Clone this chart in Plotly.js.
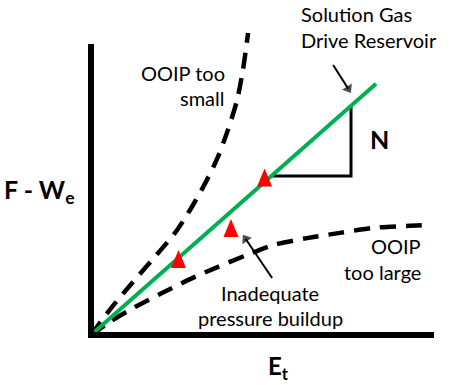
<!DOCTYPE html>
<html>
<head>
<meta charset="utf-8">
<script src="https://cdn.plot.ly/plotly-3.0.1.min.js"></script>
<style>
  html, body { margin: 0; padding: 0; background: #ffffff; }
  #chart { width: 468px; height: 385px; }
</style>
</head>
<body>
<div id="chart"></div>
<script>
// Havlena-Odeh material balance diagnostic: F - We plotted against Et.
// Units are arbitrary: both axes run 0..10.

// Straight line for a solution gas drive reservoir (slope = N)
const lineEt = [0, 8.31];
const lineF  = [0, 8.63];

// Measured points (red triangles)
const pointEt = [2.55, 4.08, 5.06];
const pointF  = [2.61, 3.68, 5.41];

// Curve bending upward: OOIP assumed too small
const smallEt = [0, 0.61, 1.20, 1.78, 2.45, 2.94, 3.38, 3.70, 3.99, 4.26, 4.43, 4.58];
const smallF  = [0, 0.96, 1.79, 2.58, 3.51, 4.40, 5.33, 6.12, 7.04, 8.08, 9.11, 10.38];

// Curve bending downward: OOIP assumed too large
const largeEt = [0, 0.55, 1.28, 2.07, 2.89, 3.62, 4.55, 5.31, 6.30, 7.26, 8.22, 9.21, 9.83];
const largeF  = [0, 0.45, 0.96, 1.44, 1.92, 2.30, 2.75, 3.09, 3.33, 3.51, 3.68, 3.75, 3.78];

// Slope triangle under the straight line: run from Et 5.28 to 7.58
const slopeEt = [5.28, 7.58, 7.58];
const slopeF  = [5.46, 5.46, 7.87];

// Pointer arrows: [tail, arrowhead centre]
const reservoirArrowEt = [7.06, 7.50];
const reservoirArrowF  = [9.28, 8.46];
const buildupArrowEt = [5.28, 4.51];
const buildupArrowF  = [1.96, 3.30];

const axisMax = 10;

const FONT = 'Lato, "Open Sans", sans-serif';
const BLACK = '#000000';

function arrowTrace(xs, ys) {
  return {
    x: xs, y: ys, type: 'scatter', mode: 'lines+markers', hoverinfo: 'skip',
    line: { color: BLACK, width: 2 },
    marker: {
      symbol: 'triangle-up', angleref: 'previous',
      size: [0, 10], color: BLACK, line: { width: 0 }
    }
  };
}

const traces = [
  {
    x: smallEt, y: smallF, mode: 'lines', type: 'scatter', hoverinfo: 'skip',
    line: { color: BLACK, width: 4.5, dash: '16px,10px', shape: 'spline', smoothing: 0.8 }
  },
  {
    x: largeEt, y: largeF, mode: 'lines', type: 'scatter', hoverinfo: 'skip',
    line: { color: BLACK, width: 4.5, dash: '16px,10px', shape: 'spline', smoothing: 0.8 }
  },
  {
    x: slopeEt, y: slopeF, mode: 'lines', type: 'scatter', hoverinfo: 'skip',
    line: { color: BLACK, width: 3 }
  },
  {
    x: lineEt, y: lineF, mode: 'lines', type: 'scatter', hoverinfo: 'skip',
    line: { color: '#00b050', width: 4 }
  },
  arrowTrace(reservoirArrowEt, reservoirArrowF),
  arrowTrace(buildupArrowEt, buildupArrowF)
];

const shapes = [
  // axis frame: left spine and bottom spine
  {
    type: 'path', xref: 'x', yref: 'y',
    path: `M0,${axisMax} L0,0 L${axisMax},0`,
    line: { color: BLACK, width: 6 }
  }
];

// Red triangles, sized in pixels and anchored at each data point
pointEt.forEach((et, i) => {
  shapes.push({
    type: 'path', xref: 'x', yref: 'y',
    xsizemode: 'pixel', ysizemode: 'pixel',
    xanchor: et, yanchor: pointF[i],
    path: 'M-7.5,-9 L7.5,-9 L0,9 Z',
    fillcolor: '#ff0000', line: { width: 0 }
  });
});

function label(text, x, y, xanchor, size, bold) {
  return {
    text: text, x: x, y: y, xref: 'x', yref: 'y',
    xanchor: xanchor, yanchor: 'middle', showarrow: false,
    font: { family: FONT, size: size, color: BLACK, weight: bold ? 700 : 400 }
  };
}

const annotations = [
  label('Solution Gas', 6.06, 11.03, 'left', 20),
  label('Drive Reservoir', 6.06, 10.14, 'left', 20),
  label('OOIP too', 3.97, 9.02, 'right', 20),
  label('small', 3.97, 8.13, 'right', 20),
  label('OOIP', 9.68, 3.06, 'right', 20),
  label('too large', 9.68, 2.16, 'right', 20),
  label('Inadequate', 5.22, 1.46, 'center', 20),
  label('pressure buildup', 5.22, 0.58, 'center', 20),
  label('N', 8.40, 6.74, 'center', 25, true),
  label('F - W<sub>e</sub>', -2.59, 4.95, 'left', 25, true),
  label('E<sub>t</sub>', 5.10, -1.10, 'left', 24, true)
];

const layout = {
  width: 468, height: 385,
  margin: { l: 0, r: 0, t: 0, b: 0, pad: 0 },
  paper_bgcolor: '#ffffff', plot_bgcolor: '#ffffff',
  showlegend: false,
  xaxis: { range: [-2.653, 10.991], visible: false, fixedrange: true },
  yaxis: { range: [-1.718, 11.512], visible: false, fixedrange: true },
  shapes: shapes,
  annotations: annotations
};

Plotly.newPlot('chart', traces, layout, { staticPlot: true, displayModeBar: false });
</script>
</body>
</html>
